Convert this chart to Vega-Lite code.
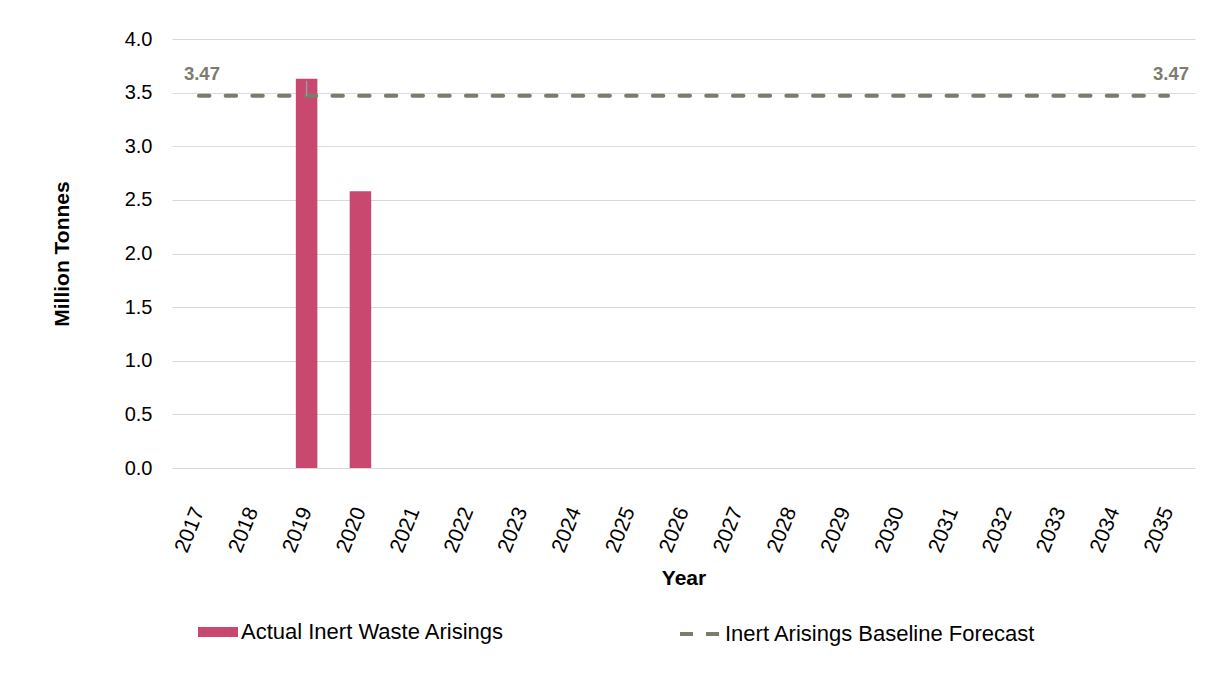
{
  "$schema": "https://vega.github.io/schema/vega-lite/v6.json",
  "width": 1023,
  "height": 429,
  "autosize": {"type": "none"},
  "padding": {"left": 172, "top": 39, "right": 11, "bottom": 205},
  "background": "white",
  "config": {"font": "Liberation Sans", "view": {"stroke": null}},
  "datasets": {
    "main": [
      {"year": "2017", "actual": null, "baseline": 3.47, "label": "3.47"},
      {"year": "2018", "actual": null, "baseline": 3.47, "label": null},
      {"year": "2019", "actual": 3.63, "baseline": 3.47, "label": null},
      {"year": "2020", "actual": 2.58, "baseline": 3.47, "label": null},
      {"year": "2021", "actual": null, "baseline": 3.47, "label": null},
      {"year": "2022", "actual": null, "baseline": 3.47, "label": null},
      {"year": "2023", "actual": null, "baseline": 3.47, "label": null},
      {"year": "2024", "actual": null, "baseline": 3.47, "label": null},
      {"year": "2025", "actual": null, "baseline": 3.47, "label": null},
      {"year": "2026", "actual": null, "baseline": 3.47, "label": null},
      {"year": "2027", "actual": null, "baseline": 3.47, "label": null},
      {"year": "2028", "actual": null, "baseline": 3.47, "label": null},
      {"year": "2029", "actual": null, "baseline": 3.47, "label": null},
      {"year": "2030", "actual": null, "baseline": 3.47, "label": null},
      {"year": "2031", "actual": null, "baseline": 3.47, "label": null},
      {"year": "2032", "actual": null, "baseline": 3.47, "label": null},
      {"year": "2033", "actual": null, "baseline": 3.47, "label": null},
      {"year": "2034", "actual": null, "baseline": 3.47, "label": null},
      {"year": "2035", "actual": null, "baseline": 3.47, "label": "3.47"}
    ],
    "err": [{"year": "2019", "lo": 3.47, "hi": 3.61}]
  },
  "encoding": {
    "x": {
      "field": "year",
      "type": "ordinal",
      "scale": {"paddingInner": 0.6, "paddingOuter": 0.3},
      "axis": {
        "title": "Year",
        "titleFontSize": 21,
        "titleFontWeight": "bold",
        "titleColor": "#000000",
        "titlePadding": 12,
        "labelFontSize": 21,
        "labelColor": "#000000",
        "labelAngle": -68,
        "labelPadding": 40,
        "ticks": false,
        "domain": false,
        "grid": false
      }
    }
  },
  "layer": [
    {
      "data": {"name": "main"},
      "mark": {"type": "bar"},
      "encoding": {
        "y": {
          "field": "actual",
          "type": "quantitative",
          "scale": {"domain": [0, 4], "nice": false},
          "axis": {
            "title": "Million Tonnes",
            "titleFontSize": 21,
            "titleFontWeight": "bold",
            "titleColor": "#000000",
            "titlePadding": 52,
            "labelFontSize": 20,
            "labelColor": "#000000",
            "labelPadding": 20,
            "values": [0, 0.5, 1, 1.5, 2, 2.5, 3, 3.5, 4],
            "format": ".1f",
            "ticks": false,
            "domain": false,
            "grid": true,
            "gridColor": "#d9d9d9",
            "gridWidth": 1
          }
        },
        "fill": {
          "datum": "Actual Inert Waste Arisings",
          "type": "nominal",
          "scale": {"range": ["#c8486f"]},
          "legend": {
            "orient": "none",
            "legendX": 26,
            "legendY": 573,
            "title": null,
            "labelFontSize": 22,
            "labelColor": "#000000",
            "labelOffset": 3,
            "labelLimit": 0,
            "symbolType": "M-1,-0.25H1V0.25H-1Z",
            "symbolSize": 1600,
            "symbolStrokeWidth": 0,
            "symbolOpacity": 1
          }
        }
      }
    },
    {
      "data": {"name": "main"},
      "mark": {"type": "line", "strokeWidth": 4, "strokeDash": [10.5, 16.2], "strokeCap": "round"},
      "encoding": {
        "y": {"field": "baseline", "type": "quantitative"},
        "stroke": {
          "datum": "Inert Arisings Baseline Forecast",
          "type": "nominal",
          "scale": {"range": ["#7b7c6c"]},
          "legend": {
            "orient": "none",
            "legendX": 506,
            "legendY": 573,
            "title": null,
            "labelFontSize": 22,
            "labelColor": "#000000",
            "labelOffset": 3,
            "labelLimit": 0,
            "symbolType": "stroke",
            "symbolSize": 1600,
            "symbolStrokeWidth": 4,
            "symbolDash": [13, 13]
          }
        }
      }
    },
    {
      "data": {"name": "err"},
      "mark": {"type": "rule", "color": "#9a9a9a", "strokeWidth": 1.5},
      "encoding": {
        "y": {"field": "lo", "type": "quantitative"},
        "y2": {"field": "hi"}
      }
    },
    {
      "data": {"name": "main"},
      "transform": [{"filter": "datum.label != null"}],
      "mark": {"type": "text", "dy": -16, "dx": 3, "fontSize": 18.5, "fontWeight": "bold", "color": "#7b7c6c", "baseline": "alphabetic", "align": "center"},
      "encoding": {
        "y": {"field": "baseline", "type": "quantitative"},
        "text": {"field": "label"}
      }
    }
  ]
}
